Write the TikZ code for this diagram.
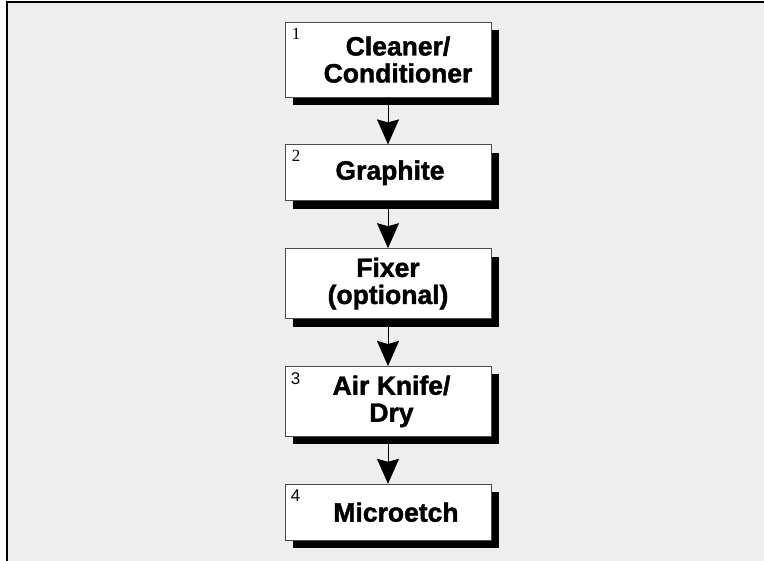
\documentclass[tikz,border=0pt]{standalone}
\usepackage{fontspec}
\setmainfont{Liberation Sans}[BoldFeatures={FakeBold=1.6}]
\newfontfamily\numserif{Liberation Serif}
\usepackage{tikz}
\usetikzlibrary{positioning,arrows.meta,shadows}
\definecolor{panelgray}{HTML}{EEEEEE}
\tikzstyle{arrow} = [thin,-{Stealth[length=25pt,width=22pt,inset=3pt]}]

\begin{document}
\begin{tikzpicture}[
        x=1pt, y=-1pt,
        node distance=47pt,
        process/.style={
            rectangle,
            draw=black!70,
            fill=white,
            line width=0.8pt,
            minimum width=206pt,
            inner sep=0pt,
            align=center,
            font=\fontsize{26.5}{27}\selectfont\bfseries,
            general shadow={fill=black, shadow xshift=8pt, shadow yshift=-8pt}
        },
        stepnum/.style={anchor=north west, inner sep=0pt},
        flow/.style={arrow, line width=0.8pt}
    ]

    \useasboundingbox (0,0) rectangle (764,561);

    % panel
    \fill[panelgray] (7,2) rectangle (764,561);
    \draw[line width=2pt] (7,561) -- (7,2) -- (764,2);

    \node[process, minimum height=75pt] (cleaner) at (388,59.5)
        {\hspace*{20pt}Cleaner/\\\hspace*{20pt}Conditioner};

    \node[process, minimum height=56pt, below=of cleaner] (graphite)
        {\hspace*{4pt}Graphite};

    \node[process, minimum height=70pt, below=of graphite] (fixer)
        {Fixer\\(optional)};

    \node[process, minimum height=70pt, below=of fixer] (airknife)
        {\hspace*{7pt}Air Knife/\\\hspace*{7pt}Dry};

    \node[process, minimum height=56pt, below=of airknife] (microetch)
        {\hspace*{16pt}Microetch};

    % step numbers
    \node[stepnum, font=\numserif\fontsize{17}{17}\selectfont]
        (num1) at ([shift={(7pt,-6pt)}]cleaner.north west) {1};
    \node[stepnum, font=\numserif\fontsize{17}{17}\selectfont]
        (num2) at ([shift={(7pt,-6pt)}]graphite.north west) {2};
    \node[stepnum, font=\fontsize{17}{17}\selectfont]
        (num3) at ([shift={(6pt,-6pt)}]airknife.north west) {3};
    \node[stepnum, font=\fontsize{17}{17}\selectfont]
        (num4) at ([shift={(6pt,-6pt)}]microetch.north west) {4};

    \draw[flow] (cleaner) -- (graphite);
    \draw[flow] (graphite) -- (fixer);
    \draw[flow] (fixer) -- (airknife);
    \draw[flow] (airknife) -- (microetch);

\end{tikzpicture}
\end{document}
